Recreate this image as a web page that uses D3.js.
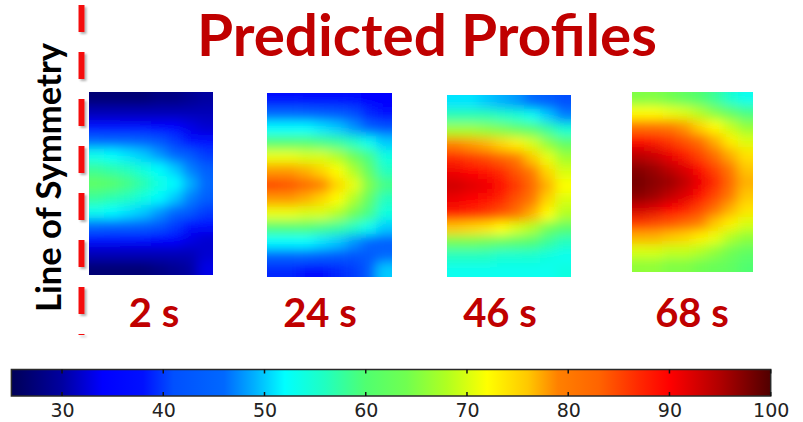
<!DOCTYPE html>
<html>
<head>
<meta charset="utf-8">
<script src="https://cdn.jsdelivr.net/npm/d3@7"></script>
<style>
  html, body { margin: 0; padding: 0; background: #fff; }
  svg { display: block; }
</style>
</head>
<body>
<svg id="chart" width="803" height="422"></svg>
<script>
// ---- data -------------------------------------------------------------
// Time of each predicted temperature profile
const timeLabels = ["2 s", "24 s", "46 s", "68 s"];

// Temperature fields (rows top -> bottom, columns symmetry line -> outer edge)
const field2s = [
  [27, 27, 27, 27, 28, 28, 29, 30],
  [31, 31, 31, 31, 31, 31, 31, 31],
  [37, 37, 36, 36, 35, 34, 33, 32],
  [46, 45, 45, 44, 42, 40, 38, 36],
  [53, 52, 51, 50, 48, 46, 43, 40],
  [58, 57, 56, 54, 52, 50, 47, 44],
  [62, 61, 59, 57, 54, 52, 49, 46],
  [58, 57, 56, 54, 52, 50, 47, 44],
  [53, 52, 51, 50, 48, 46, 43, 40],
  [46, 45, 45, 44, 42, 40, 38, 36],
  [37, 37, 36, 36, 35, 34, 33, 32],
  [31, 31, 31, 31, 31, 31, 31, 32],
  [27, 27, 27, 27, 28, 29, 30, 33]
];
const field24s = [
  [38, 38, 38, 37, 37, 36, 35, 35],
  [46, 46, 45, 44, 43, 41, 39, 37],
  [52, 52, 52, 51, 50, 48, 45, 42],
  [60, 60, 60, 59, 58, 56, 53, 50],
  [71, 71, 70, 70, 68, 64, 59, 54],
  [78, 78, 77, 75, 72, 68, 62, 56],
  [85, 84, 82, 79, 75, 71, 65, 59],
  [78, 78, 77, 75, 72, 68, 62, 56],
  [71, 71, 70, 70, 68, 64, 59, 54],
  [60, 60, 60, 59, 58, 56, 53, 50],
  [52, 52, 52, 51, 50, 48, 46, 44],
  [45, 45, 45, 44, 43, 42, 43, 46],
  [39, 39, 38, 38, 39, 40, 43, 50]
];
const field46s = [
  [51, 51, 50, 49, 48, 46, 44, 41],
  [57, 57, 57, 56, 55, 53, 50, 47],
  [67, 67, 66, 65, 63, 61, 58, 55],
  [79, 78, 77, 75, 73, 70, 66, 62],
  [87, 86, 85, 83, 80, 76, 71, 67],
  [91, 90, 89, 87, 84, 80, 75, 70],
  [93, 92, 91, 89, 86, 82, 77, 72],
  [91, 90, 89, 87, 84, 80, 75, 70],
  [88, 87, 86, 84, 81, 77, 72, 68],
  [76, 75, 74, 72, 70, 68, 64, 61],
  [64, 64, 63, 62, 61, 60, 58, 56],
  [56, 56, 56, 55, 55, 55, 54, 53],
  [53, 53, 53, 53, 53, 53, 53, 54]
];
const field68s = [
  [65, 65, 64, 62, 60, 58, 55, 53],
  [72, 72, 71, 70, 68, 65, 62, 59],
  [81, 81, 80, 78, 75, 72, 69, 66],
  [89, 88, 86, 84, 81, 77, 73, 70],
  [94, 93, 91, 88, 85, 81, 77, 74],
  [97, 96, 94, 92, 89, 85, 80, 76],
  [98, 97, 96, 94, 91, 87, 82, 77],
  [97, 96, 94, 92, 89, 85, 80, 76],
  [93, 92, 90, 88, 85, 81, 77, 74],
  [86, 85, 84, 82, 79, 76, 73, 70],
  [77, 77, 76, 75, 73, 71, 68, 66],
  [70, 70, 69, 69, 68, 66, 64, 62],
  [66, 66, 65, 65, 64, 63, 62, 60]
];
const fields = [field2s, field24s, field46s, field68s];

// Colour map (temperature -> colour)
const colorDomain = [25, 30, 34, 38, 41, 46, 49, 52, 56, 60, 64, 68, 72, 76, 79, 83, 87, 90, 95, 100];
const colorRange  = ["#000058", "#0000a0", "#0000ff", "#0010ff", "#0050ff", "#0068ff", "#00b0ff",
                     "#00ffff", "#20ffc0", "#50ff70", "#70ff50", "#b0ff20", "#ffff00", "#ffc800",
                     "#ff8000", "#ff6400", "#ff2800", "#ff0000", "#b00000", "#500000"];
const colorExtent = [25, 100];
const colorTicks  = [30, 40, 50, 60, 70, 80, 90, 100];

// ---- layout -----------------------------------------------------------
const panels = [
  { x0: 89,  x1: 213, y0: 92, y1: 275, lx: 154 },
  { x0: 267, x1: 392, y0: 93, y1: 277, lx: 320 },
  { x0: 447, x1: 571, y0: 95, y1: 277, lx: 500 },
  { x0: 632, x1: 753, y0: 92, y1: 272, lx: 692 }
];
const red = "#c00000";
const pad = 25;

const svg = d3.select("#chart");
const defs = svg.append("defs");

const color = d3.scaleLinear()
  .domain(colorDomain)
  .range(colorRange)
  .interpolate(d3.interpolateRgb)
  .clamp(true);

// smoothing filter for the temperature maps
defs.append("filter").attr("id", "smooth")
  .attr("x", "-20%").attr("y", "-20%").attr("width", "140%").attr("height", "140%")
  .append("feGaussianBlur").attr("stdDeviation", "6 5.5");

// soft shadow for the dashed symmetry line
const sh = defs.append("filter").attr("id", "shadow")
  .attr("filterUnits", "userSpaceOnUse")
  .attr("x", 60).attr("y", 0).attr("width", 45).attr("height", 350);
sh.append("feDropShadow").attr("dx", 2).attr("dy", 2).attr("stdDeviation", 1)
  .attr("flood-color", "#000").attr("flood-opacity", 0.3);

// ---- title ------------------------------------------------------------
svg.append("text")
  .attr("x", 427).attr("y", 56)
  .attr("text-anchor", "middle")
  .attr("font-family", "Lato, 'Open Sans', sans-serif")
  .attr("font-weight", 700)
  .attr("font-size", 57)
  .attr("fill", red)
  .attr("textLength", 460)
  .attr("lengthAdjust", "spacingAndGlyphs")
  .text("Predicted Profiles");

// ---- line of symmetry -------------------------------------------------
svg.append("line")
  .attr("x1", 81.5).attr("x2", 81.5)
  .attr("y1", 5).attr("y2", 335)
  .attr("stroke", "#f41010")
  .attr("stroke-width", 6)
  .attr("stroke-dasharray", "27 20")
  .attr("filter", "url(#shadow)");

svg.append("text")
  .attr("transform", "translate(61,177.5) rotate(-90)")
  .attr("text-anchor", "middle")
  .attr("font-family", "Lato, 'Open Sans', sans-serif")
  .attr("font-weight", 700)
  .attr("font-size", 35)
  .attr("fill", "#000")
  .attr("textLength", 269)
  .attr("lengthAdjust", "spacingAndGlyphs")
  .text("Line of Symmetry");

// ---- temperature maps -------------------------------------------------
fields.forEach((grid, k) => {
  const p = panels[k];
  const rows = grid.length, cols = grid[0].length;
  const xb = d3.scaleBand().domain(d3.range(cols)).range([p.x0, p.x1]);
  const yb = d3.scaleBand().domain(d3.range(rows)).range([p.y0, p.y1]);

  defs.append("clipPath").attr("id", "clip" + k)
    .append("rect")
    .attr("x", p.x0).attr("y", p.y0)
    .attr("width", p.x1 - p.x0).attr("height", p.y1 - p.y0);

  const cells = grid.flatMap((row, i) => row.map((v, j) => ({ i, j, v })));

  svg.append("g").attr("clip-path", `url(#clip${k})`)
    .append("g").attr("filter", "url(#smooth)")
    .selectAll("rect").data(cells).join("rect")
      .attr("x", d => xb(d.j) - (d.j === 0 ? pad : 0))
      .attr("y", d => yb(d.i) - (d.i === 0 ? pad : 0))
      .attr("width", d => xb.bandwidth() + 0.6 + (d.j === 0 ? pad : 0) + (d.j === cols - 1 ? pad : 0))
      .attr("height", d => yb.bandwidth() + 0.6 + (d.i === 0 ? pad : 0) + (d.i === rows - 1 ? pad : 0))
      .attr("fill", d => color(d.v));

  svg.append("text")
    .attr("x", p.lx).attr("y", 327)
    .attr("text-anchor", "middle")
    .attr("font-family", "Lato, 'Open Sans', sans-serif")
    .attr("font-weight", 700)
    .attr("font-size", 40)
    .attr("fill", red)
    .text(timeLabels[k]);
});

// ---- colour bar -------------------------------------------------------
const xs = d3.scaleLinear().domain(colorExtent).range([11.4, 770.7]);
const barTop = 369.5, barBottom = 396;

const grad = defs.append("linearGradient").attr("id", "cbar")
  .attr("gradientUnits", "userSpaceOnUse")
  .attr("x1", xs(colorExtent[0])).attr("x2", xs(colorExtent[1]))
  .attr("y1", 0).attr("y2", 0);
grad.selectAll("stop").data(colorDomain).join("stop")
  .attr("offset", d => (d - colorExtent[0]) / (colorExtent[1] - colorExtent[0]))
  .attr("stop-color", d => color(d));

svg.append("rect")
  .attr("x", xs(colorExtent[0])).attr("y", barTop)
  .attr("width", xs(colorExtent[1]) - xs(colorExtent[0]))
  .attr("height", barBottom - barTop)
  .attr("fill", "url(#cbar)")
  .attr("stroke", "#2a2a2a")
  .attr("stroke-width", 1.5);

const tickG = svg.append("g");
tickG.selectAll("line.top").data(colorTicks).join("line")
  .attr("class", "top")
  .attr("x1", d => xs(d)).attr("x2", d => xs(d))
  .attr("y1", barTop).attr("y2", barTop + 4)
  .attr("stroke", "#111").attr("stroke-width", 1.5);
tickG.selectAll("line.bot").data(colorTicks).join("line")
  .attr("class", "bot")
  .attr("x1", d => xs(d)).attr("x2", d => xs(d))
  .attr("y1", barBottom - 4).attr("y2", barBottom)
  .attr("stroke", "#111").attr("stroke-width", 1.5);

const axis = svg.append("g")
  .attr("transform", `translate(0,${barBottom})`)
  .call(d3.axisBottom(xs).tickValues(colorTicks).tickSize(0).tickPadding(7.5).tickFormat(d3.format("d")));
axis.select(".domain").remove();
axis.selectAll("text")
  .attr("font-family", "'DejaVu Sans', sans-serif")
  .attr("font-size", 19)
  .attr("fill", "#222");
</script>
</body>
</html>
